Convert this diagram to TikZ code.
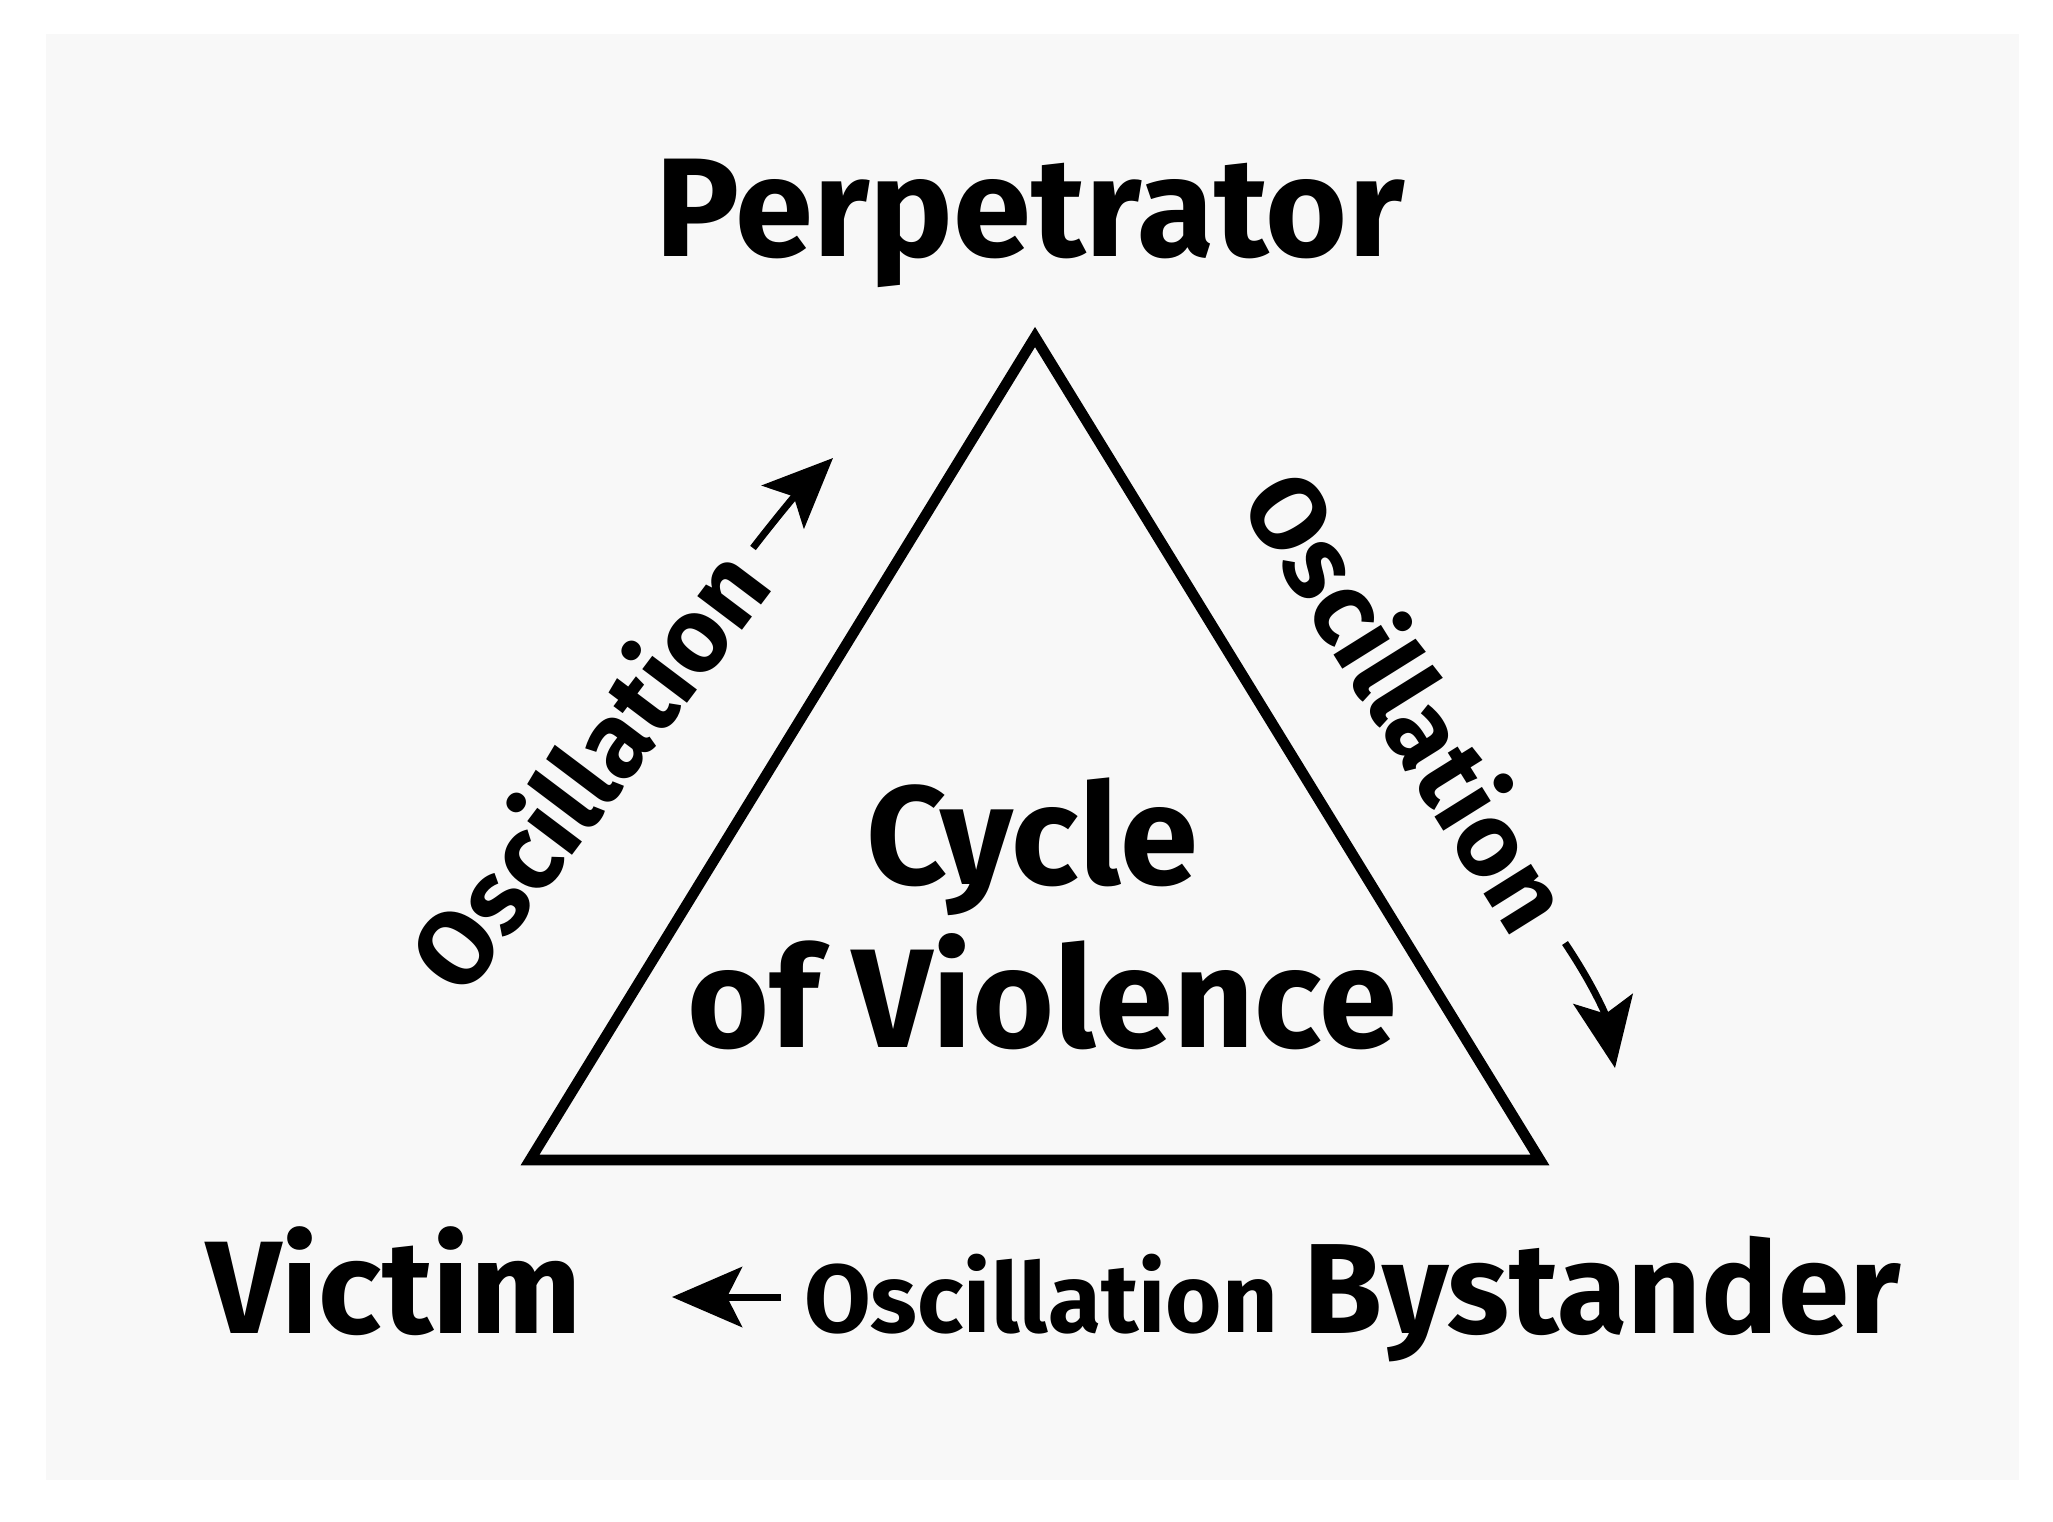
\documentclass[tikz,border=0pt]{standalone}
\usepackage{fontspec}
\setmainfont{Fira Sans}
\usetikzlibrary{arrows.meta}
\definecolor{panel}{HTML}{F8F8F8}

\begin{document}
\begin{tikzpicture}[
         role/.style={font=\fontsize{40}{48}\selectfont\bfseries, inner sep=0pt, anchor=base},
         corner/.style={font=\fontsize{36.5}{43}\selectfont\bfseries, inner sep=0pt, anchor=base},
         osc/.style={font=\fontsize{30}{36}\selectfont\bfseries, inner sep=0pt},
         swing/.style={-{Stealth[length=7mm, width=6mm, inset=1.5mm]}, line width=2pt},
         edge/.style={line width=3pt, line join=miter}
      ]
         % Canvas and light panel
         \useasboundingbox (0,0) rectangle (20.53,-15.21);
         \fill[panel] (0.46,-0.34) rectangle (20.19,-14.80);

         % Triangle
         \coordinate (apex) at (10.35,-3.37);
         \coordinate (vleft) at (5.30,-11.60);
         \coordinate (vright) at (15.40,-11.60);
         \draw[edge] (apex) -- (vleft) -- (vright) -- cycle;

         % Roles
         \node[role] (perp) at (10.30,-2.56) {Perpetrator};
         \node[corner, font=\fontsize{37.5}{44}\selectfont\bfseries] (victim) at (3.94,-13.33) {Victim};
         \node[corner] (bystander) at (16.02,-13.33) {Bystander};

         % Centre text
         \node[role] (cycle) at (10.32,-8.84) {Cycle};
         \node[role] (violence) at (10.42,-10.47) {of Violence};

         % Oscillation labels
         \node[osc, rotate=53] (oscleft) at (5.86,-7.68) {Oscillation};
         \node[osc, rotate=-58] (oscright) at (14.11,-6.99) {Oscillation};
         \node[osc, anchor=base, font=\fontsize{27.5}{33}\selectfont\bfseries] (oscbottom) at (10.41,-13.32) {Oscillation};

         % Arrow ends
         \coordinate (ltail) at (7.53,-5.48);
         \coordinate (ltip) at (8.33,-4.58);
         \coordinate (rtail) at (15.65,-9.43);
         \coordinate (rtip) at (16.15,-10.68);
         \coordinate (btail) at (7.81,-12.97);
         \coordinate (btip) at (6.72,-12.97);

         % Arrows
         \draw[swing] (ltail) to[bend left=4] (ltip);
         \draw[swing] (rtail) to[bend left=12] (rtip);
         \draw[swing] (btail) -- (btip);
      \end{tikzpicture}
\end{document}
